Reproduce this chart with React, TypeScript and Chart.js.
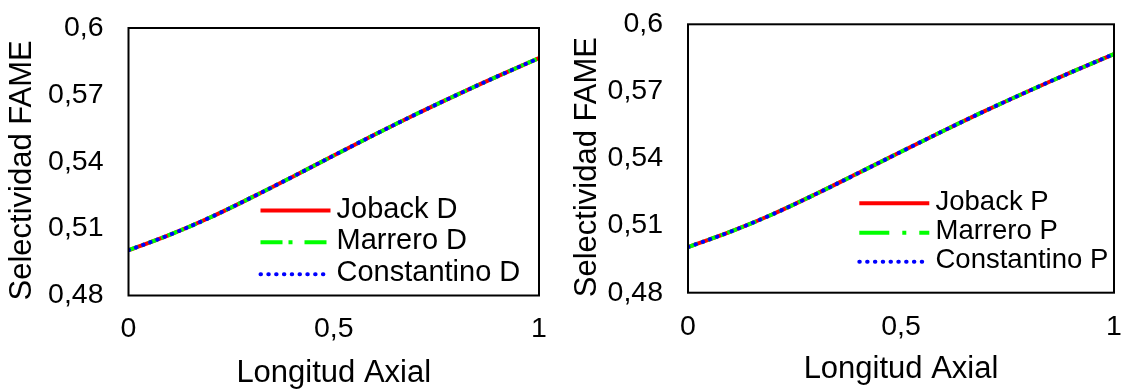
import React, { useEffect, useRef } from "react";
import { Chart, registerables } from "chart.js";

Chart.register(...registerables);

// Axial position along the reactor (dimensionless)
const longitudAxial = [0, 0.1, 0.2, 0.3, 0.4, 0.5, 0.6, 0.7, 0.8, 0.9, 1];

// FAME selectivity, D correlations
const jobackD = [0.5003, 0.5072, 0.5151, 0.524, 0.5333, 0.5428, 0.5522, 0.5613, 0.57, 0.5784, 0.5865];
const marreroD = [0.5003, 0.5072, 0.5151, 0.524, 0.5333, 0.5428, 0.5522, 0.5613, 0.57, 0.5784, 0.5865];
const constantinoD = [0.5003, 0.5072, 0.5151, 0.524, 0.5333, 0.5428, 0.5522, 0.5613, 0.57, 0.5784, 0.5865];

// FAME selectivity, P correlations
const jobackP = [0.5004, 0.5073, 0.5152, 0.5241, 0.5335, 0.543, 0.5524, 0.5615, 0.5702, 0.5786, 0.5867];
const marreroP = [0.5004, 0.5073, 0.5152, 0.5241, 0.5335, 0.543, 0.5524, 0.5615, 0.5702, 0.5786, 0.5867];
const constantinoP = [0.5004, 0.5073, 0.5152, 0.5241, 0.5335, 0.543, 0.5524, 0.5615, 0.5702, 0.5786, 0.5867];

// Axis ticks
const xTickValues = [0, 0.5, 1];
const xTickLabels = ["0", "0,5", "1"];
const yTickValues = [0.48, 0.51, 0.54, 0.57, 0.6];
const yTickLabels = ["0,48", "0,51", "0,54", "0,57", "0,6"];

const FONT = "'Liberation Sans', Arial, Helvetica, sans-serif";

type SeriesStyle = {
  label: string;
  data: number[];
  color: string;
  dash: number[];
  legendDash: number[];
  cap: CanvasLineCap;
  order: number;
};

type PanelLayout = {
  areaLeft: number;
  areaRight: number;
  areaTop: number;
  areaBottom: number;
  yTitlePad: number;
  xTitlePad: number;
  legendX: number;
  legendLen: number;
  legendTextX: number;
  legendRows: number[];
  legendFont: number;
};

const WIDTH = 561;
const HEIGHT = 390;

function makeSeries(suffix: string, j: number[], m: number[], c: number[], greenLegendDash: number[]): SeriesStyle[] {
  return [
    { label: "Joback " + suffix, data: j, color: "#ff0000", dash: [], legendDash: [], cap: "butt", order: 3 },
    { label: "Marrero " + suffix, data: m, color: "#00ff00", dash: [10, 4, 3, 4], legendDash: greenLegendDash, cap: "butt", order: 2 },
    { label: "Constantino " + suffix, data: c, color: "#0000ff", dash: [0.5, 7.2], legendDash: [0.5, 7.3], cap: "round", order: 1 },
  ];
}

function Panel({ series, layout }: { series: SeriesStyle[]; layout: PanelLayout }) {
  const ref = useRef<HTMLCanvasElement | null>(null);

  useEffect(() => {
    if (!ref.current) return;

    const frame = {
      id: "frameAndLegend",
      afterDatasetsDraw(chart: any) {
        const { ctx, chartArea } = chart;
        ctx.save();
        ctx.strokeStyle = "#000";
        ctx.lineWidth = 2;
        ctx.setLineDash([]);
        ctx.strokeRect(chartArea.left, chartArea.top, chartArea.right - chartArea.left, chartArea.bottom - chartArea.top);
        ctx.restore();
      },
      afterDraw(chart: any) {
        const { ctx } = chart;
        ctx.save();
        series.forEach((s, i) => {
          const y = layout.legendRows[i];
          ctx.beginPath();
          ctx.strokeStyle = s.color;
          ctx.lineWidth = 4;
          ctx.lineCap = s.cap;
          ctx.setLineDash(s.legendDash);
          ctx.moveTo(layout.legendX, y);
          ctx.lineTo(layout.legendX + layout.legendLen, y);
          ctx.stroke();
          ctx.setLineDash([]);
          ctx.fillStyle = "#000";
          ctx.font = `${layout.legendFont}px ${FONT}`;
          ctx.textBaseline = "middle";
          ctx.textAlign = "left";
          ctx.fillText(s.label, layout.legendTextX, y - 1);
        });
        ctx.restore();
      },
    };

    const chart = new Chart(ref.current, {
      type: "line",
      data: {
        datasets: series.map((s) => ({
          label: s.label,
          data: longitudAxial.map((x, k) => ({ x, y: s.data[k] })),
          borderColor: s.color,
          backgroundColor: s.color,
          borderWidth: 4,
          borderDash: s.dash,
          borderCapStyle: s.cap,
          pointRadius: 0,
          tension: 0.35,
          fill: false,
          order: s.order,
        })),
      },
      options: {
        responsive: false,
        animation: false,
        events: [],
        layout: {
          autoPadding: false,
          padding: {
            left: 0,
            top: layout.areaTop,
            right: WIDTH - layout.areaRight,
            bottom: 0,
          },
        },
        plugins: {
          legend: { display: false },
          title: { display: false },
          tooltip: { enabled: false },
        },
        scales: {
          x: {
            type: "linear",
            min: 0,
            max: 1,
            grid: { display: false, drawTicks: false, tickLength: 0 },
            border: { display: false },
            afterBuildTicks: (scale: any) => {
              scale.ticks = xTickValues.map((v) => ({ value: v }));
            },
            afterFit: (scale: any) => {
              scale.height = HEIGHT - layout.areaBottom;
              scale.paddingLeft = 0;
              scale.paddingRight = 0;
            },
            ticks: {
              padding: 17,
              color: "#000",
              maxRotation: 0,
              font: { family: FONT, size: 28.5 },
              callback: (_v: any, i: number) => xTickLabels[i],
            },
            title: {
              display: true,
              text: "Longitud Axial",
              color: "#000",
              font: { family: FONT, size: 31, lineHeight: 1 },
              padding: { top: 0, bottom: layout.xTitlePad },
            },
          },
          y: {
            type: "linear",
            min: 0.48,
            max: 0.6,
            grid: { display: false, drawTicks: false, tickLength: 0 },
            border: { display: false },
            afterBuildTicks: (scale: any) => {
              scale.ticks = yTickValues.map((v) => ({ value: v }));
            },
            afterFit: (scale: any) => {
              scale.width = layout.areaLeft;
              scale.paddingTop = 0;
              scale.paddingBottom = 0;
            },
            ticks: {
              padding: 25,
              color: "#000",
              font: { family: FONT, size: 28.5 },
              callback: (_v: any, i: number) => yTickLabels[i],
            },
            title: {
              display: true,
              text: "Selectividad FAME  ",
              color: "#000",
              font: { family: FONT, size: 31, lineHeight: 1.2 },
              padding: { top: layout.yTitlePad, bottom: 0 },
            },
          },
        },
      },
      plugins: [frame],
    });

    return () => chart.destroy();
  }, [series, layout]);

  return <canvas ref={ref} width={WIDTH} height={HEIGHT} style={{ width: WIDTH, height: HEIGHT, display: "block" }} />;
}

const seriesD = makeSeries("D", jobackD, marreroD, constantinoD, [22, 6, 4, 12]);
const seriesP = makeSeries("P", jobackP, marreroP, constantinoP, [30, 13, 4, 13]);

const layoutD: PanelLayout = {
  areaLeft: 128.5,
  areaRight: 539,
  areaTop: 28,
  areaBottom: 295.5,
  yTitlePad: 4,
  xTitlePad: 1,
  legendX: 260.5,
  legendLen: 70,
  legendTextX: 336.5,
  legendRows: [210.5, 242.3, 274.2],
  legendFont: 29,
};

const layoutP: PanelLayout = {
  areaLeft: 127,
  areaRight: 553,
  areaTop: 24.3,
  areaBottom: 292.7,
  yTitlePad: 8,
  xTitlePad: 5,
  legendX: 298.3,
  legendLen: 70,
  legendTextX: 374.5,
  legendRows: [203.3, 232.7, 261.7],
  legendFont: 27.5,
};

export default function App() {
  return (
    <div style={{ position: "absolute", left: 0, top: 0, width: 1122, height: 390, background: "#fff", overflow: "hidden" }}>
      <div style={{ position: "absolute", left: 0, top: 0 }}>
        <Panel series={seriesD} layout={layoutD} />
      </div>
      <div style={{ position: "absolute", left: 561, top: 0 }}>
        <Panel series={seriesP} layout={layoutP} />
      </div>
    </div>
  );
}
